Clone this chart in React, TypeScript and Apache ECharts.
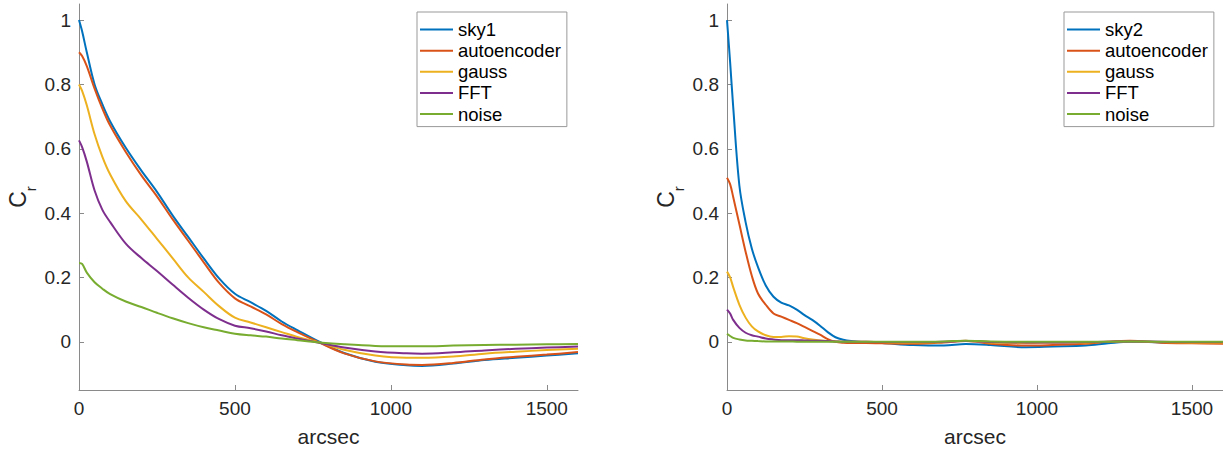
import React, { useEffect, useRef } from "react";
import * as echarts from "echarts";

// ---------- data ----------
const seriesNamesLeft = ["sky1", "autoencoder", "gauss", "FFT", "noise"];
const seriesNamesRight = ["sky2", "autoencoder", "gauss", "FFT", "noise"];
const colors = ["#0072BD", "#D95319", "#EDB120", "#7E2F8E", "#77AC30"];

const xLeft = [0, 10, 25, 50, 75, 100, 150, 200, 250, 300, 350, 400, 450, 500, 550, 600, 650, 700, 770, 850, 950, 1050, 1100, 1200, 1300, 1400, 1500, 1600];
const sky1 = [1.0, 0.965, 0.9, 0.8, 0.738, 0.685, 0.603, 0.532, 0.466, 0.393, 0.326, 0.259, 0.196, 0.149, 0.123, 0.096, 0.063, 0.036, 0.0, -0.035, -0.062, -0.073, -0.075, -0.068, -0.057, -0.05, -0.043, -0.036];
const autoenc1 = [0.9, 0.888, 0.857, 0.787, 0.725, 0.672, 0.59, 0.517, 0.452, 0.381, 0.314, 0.247, 0.182, 0.135, 0.11, 0.085, 0.055, 0.03, -0.002, -0.036, -0.061, -0.071, -0.072, -0.066, -0.055, -0.047, -0.04, -0.032];
const gauss1 = [0.8, 0.78, 0.735, 0.645, 0.575, 0.52, 0.437, 0.38, 0.32, 0.26, 0.2, 0.155, 0.11, 0.075, 0.06, 0.045, 0.03, 0.015, -0.002, -0.025, -0.043, -0.05, -0.05, -0.046, -0.037, -0.031, -0.026, -0.022];
const fft1 = [0.626, 0.605, 0.56, 0.47, 0.41, 0.372, 0.305, 0.26, 0.22, 0.178, 0.137, 0.1, 0.07, 0.05, 0.042, 0.032, 0.02, 0.01, -0.003, -0.018, -0.03, -0.036, -0.037, -0.033, -0.027, -0.022, -0.018, -0.015];
const noise1 = [0.245, 0.242, 0.215, 0.185, 0.165, 0.148, 0.125, 0.108, 0.09, 0.073, 0.058, 0.045, 0.035, 0.025, 0.02, 0.016, 0.01, 0.005, -0.002, -0.008, -0.013, -0.014, -0.014, -0.012, -0.01, -0.009, -0.008, -0.007];

const xRight = [0, 10, 20, 40, 60, 80, 100, 125, 150, 175, 200, 225, 250, 275, 300, 325, 350, 375, 400, 450, 500, 600, 700, 770, 850, 964, 1050, 1157, 1230, 1300, 1400, 1500, 1600];
const sky2 = [1.0, 0.87, 0.73, 0.485, 0.372, 0.29, 0.232, 0.175, 0.14, 0.122, 0.113, 0.1, 0.083, 0.068, 0.05, 0.03, 0.014, 0.006, 0.002, -0.002, -0.004, -0.01, -0.012, -0.007, -0.01, -0.017, -0.015, -0.012, -0.005, 0.0, -0.002, -0.003, -0.004];
const autoenc2 = [0.51, 0.49, 0.45, 0.365, 0.28, 0.205, 0.15, 0.115, 0.088, 0.078, 0.068, 0.058, 0.046, 0.034, 0.022, 0.008, 0.0, -0.003, -0.004, -0.004, -0.005, -0.006, -0.002, 0.003, -0.006, -0.012, -0.01, -0.006, 0.0, 0.003, -0.003, -0.005, -0.006];
const gauss2 = [0.218, 0.2, 0.17, 0.115, 0.075, 0.048, 0.032, 0.02, 0.015, 0.015, 0.017, 0.016, 0.011, 0.007, 0.004, 0.002, 0.001, 0.0, 0.0, 0.0, -0.001, -0.002, -0.001, 0.002, -0.002, -0.004, -0.003, -0.002, 0.0, 0.001, -0.001, -0.002, -0.002];
const fft2 = [0.1, 0.088, 0.068, 0.043, 0.028, 0.02, 0.016, 0.01, 0.007, 0.005, 0.005, 0.005, 0.004, 0.003, 0.003, 0.002, 0.001, 0.0, 0.0, 0.0, -0.001, -0.001, 0.0, 0.002, -0.001, -0.002, -0.002, -0.001, 0.0, 0.001, 0.0, -0.001, -0.001];
const noise2 = [0.025, 0.018, 0.012, 0.007, 0.004, 0.003, 0.002, 0.001, 0.001, 0.001, 0.001, 0.0, 0.0, 0.0, 0.0, 0.0, 0.0, 0.0, 0.0, 0.0, 0.0, 0.0, 0.001, 0.003, 0.001, 0.0, 0.0, 0.0, 0.0, 0.001, 0.0, 0.0, 0.0];

const yTicks = [0, 0.2, 0.4, 0.6, 0.8, 1];
const xTicks = [0, 500, 1000, 1500];

const FONT = "'Liberation Sans', Arial, Helvetica, sans-serif";
const AXIS_COLOR = "#8a8a8a";
const TEXT_COLOR = "#262626";

function zip(xs: number[], ys: number[]) {
  return xs.map((x, i) => [x, ys[i]]);
}

export default function App() {
  const ref = useRef<HTMLDivElement>(null);
  useEffect(() => {
    if (!ref.current) return;
    const chart = echarts.init(ref.current, undefined, { renderer: "svg" });

    const leftData = [sky1, autoenc1, gauss1, fft1, noise1];
    const rightData = [sky2, autoenc2, gauss2, fft2, noise2];

    const mkX = (gridIndex: number) => ({
      type: "value",
      gridIndex,
      min: 0,
      max: 1600,
      name: "arcsec",
      nameLocation: "middle",
      nameGap: 36,
      nameTextStyle: { fontFamily: FONT, fontSize: 21, color: TEXT_COLOR },
      axisLine: { show: true, onZero: false, lineStyle: { color: AXIS_COLOR, width: 1 } },
      axisTick: { show: true, inside: true, length: 5, customValues: xTicks, lineStyle: { color: AXIS_COLOR } },
      axisLabel: {
        customValues: xTicks,
        margin: 9,
        fontFamily: FONT,
        fontSize: 19,
        color: TEXT_COLOR,
        formatter: (v: number) => String(Math.round(v)),
      },
      splitLine: { show: false },
    });
    const mkY = (gridIndex: number) => ({
      type: "value",
      gridIndex,
      min: -0.15,
      max: 1.05,
      name: "{c|C}{r|r}",
      nameLocation: "middle",
      nameGap: 50,
      nameRotate: 90,
      nameTextStyle: {
        fontFamily: FONT,
        color: TEXT_COLOR,
        rich: {
          c: { fontFamily: FONT, fontSize: 23, color: TEXT_COLOR },
          r: { fontFamily: FONT, fontSize: 15, color: TEXT_COLOR, verticalAlign: "bottom", padding: [0, 0, -9, 0] },
        },
      },
      axisLine: { show: true, onZero: false, lineStyle: { color: AXIS_COLOR, width: 1 } },
      axisTick: { show: true, inside: true, length: 5, customValues: yTicks, lineStyle: { color: AXIS_COLOR } },
      axisLabel: {
        customValues: yTicks,
        margin: 8,
        fontFamily: FONT,
        fontSize: 19,
        color: TEXT_COLOR,
        formatter: (v: number) => String(Math.round(v * 10) / 10),
      },
      splitLine: { show: false },
    });

    const mkLegend = (names: string[], left: number) => ({
      orient: "vertical",
      left,
      top: 12,
      data: names.map((n, i) => ({ name: n, itemStyle: { color: colors[i] } })),
      icon: "rect",
      itemWidth: 33,
      itemHeight: 2,
      itemGap: 2.15,
      padding: [8, 6, 3, 3],
      borderColor: "#999",
      borderWidth: 1,
      backgroundColor: "#fff",
      textStyle: { fontFamily: FONT, fontSize: 18.5, color: "#000", lineHeight: 18 },
      selectedMode: false,
    });

    const series: any[] = [];
    seriesNamesLeft.forEach((n, i) => {
      series.push({
        type: "line",
        name: n,
        xAxisIndex: 0,
        yAxisIndex: 0,
        data: zip(xLeft, leftData[i]),
        showSymbol: false,
        symbol: "none",
        smooth: 0.35,
        lineStyle: { color: colors[i], width: 2 },
        itemStyle: { color: colors[i] },
      });
    });
    seriesNamesRight.forEach((n, i) => {
      series.push({
        type: "line",
        name: n + " ",
        xAxisIndex: 1,
        yAxisIndex: 1,
        data: zip(xRight, rightData[i]),
        showSymbol: false,
        symbol: "none",
        smooth: 0.35,
        lineStyle: { color: colors[i], width: 2 },
        itemStyle: { color: colors[i] },
      });
    });

    chart.setOption({
      animation: false,
      backgroundColor: "#fff",
      grid: [
        { left: 79, top: 4, width: 499, height: 387 },
        { left: 727, top: 4, width: 498, height: 387 },
      ],
      xAxis: [mkX(0), mkX(1)],
      yAxis: [mkY(0), mkY(1)],
      legend: [
        { ...mkLegend(seriesNamesLeft, 417) },
        {
          ...mkLegend(seriesNamesRight.map((n) => n + " "), 1064),
          formatter: (n: string) => n.trim(),
        },
      ],
      series,
    });

    return () => chart.dispose();
  }, []);

  return (
    <div
      ref={ref}
      style={{ position: "absolute", left: 0, top: 0, width: 1223, height: 452 }}
    />
  );
}
